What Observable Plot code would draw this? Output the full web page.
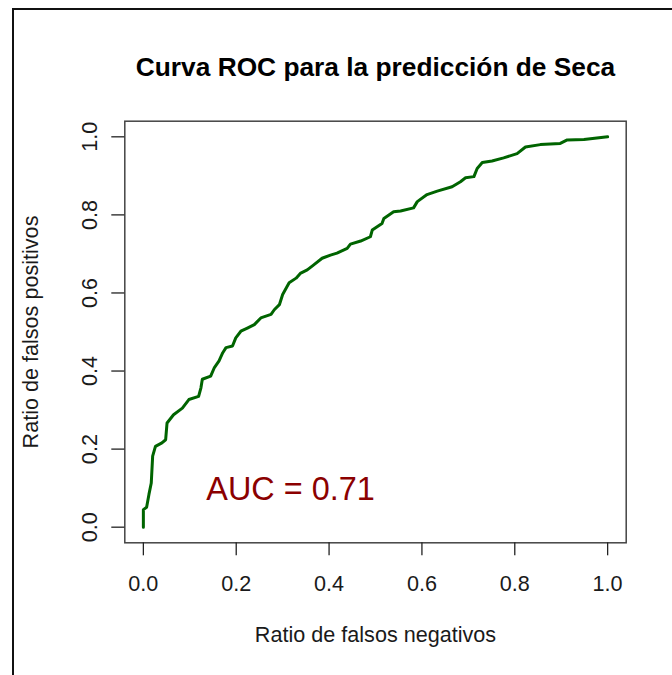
<!DOCTYPE html>
<html>
<head>
<meta charset="utf-8">
<script src="https://cdn.jsdelivr.net/npm/d3@7"></script>
<script src="https://cdn.jsdelivr.net/npm/@observablehq/plot@0.6"></script>
<style>
  html, body { margin: 0; padding: 0; background: #fff; }
  #wrap { position: relative; width: 672px; height: 675px; overflow: hidden; }
  #border { position: absolute; left: 12px; top: 8px; width: 700px; height: 700px;
            border-left: 2px solid #111; border-top: 2px solid #111; pointer-events: none; }
  #chart { position: absolute; left: 0; top: 0; }
</style>
</head>
<body>
<div id="wrap"><div id="chart"></div><div id="border"></div></div>
<script>
const title = "Curva ROC para la predicción de Seca";
const xLabel = "Ratio de falsos negativos";
const yLabel = "Ratio de falsos positivos";
const aucLabel = "AUC = 0.71";
const xTicks = [0, 0.2, 0.4, 0.6, 0.8, 1.0];
const yTicks = [0, 0.2, 0.4, 0.6, 0.8, 1.0];
const fpr = [0, 0, 0.007, 0.012, 0.017, 0.020, 0.026, 0.040, 0.048, 0.051,
  0.065, 0.084, 0.098, 0.119, 0.124, 0.127, 0.145, 0.153, 0.163, 0.171,
  0.178, 0.192, 0.199, 0.21, 0.224, 0.239, 0.253, 0.275, 0.282, 0.293,
  0.30, 0.314, 0.329, 0.338, 0.353, 0.367, 0.385, 0.403, 0.417, 0.439,
  0.446, 0.468, 0.489, 0.493, 0.514, 0.518, 0.539, 0.554, 0.582, 0.590,
  0.611, 0.633, 0.665, 0.683, 0.694, 0.712, 0.719, 0.730, 0.751, 0.776,
  0.805, 0.823, 0.855, 0.898, 0.913, 0.949, 1.0];
const tpr = [0, 0.045, 0.051, 0.084, 0.113, 0.182, 0.207, 0.216, 0.224, 0.267,
  0.288, 0.305, 0.327, 0.335, 0.357, 0.379, 0.387, 0.409, 0.426, 0.447,
  0.46, 0.464, 0.485, 0.502, 0.51, 0.519, 0.536, 0.545, 0.557, 0.570,
  0.596, 0.626, 0.638, 0.650, 0.659, 0.672, 0.689, 0.697, 0.702, 0.714,
  0.725, 0.733, 0.744, 0.761, 0.778, 0.791, 0.808, 0.810, 0.818, 0.834,
  0.852, 0.861, 0.872, 0.885, 0.895, 0.898, 0.919, 0.934, 0.938, 0.946,
  0.957, 0.974, 0.980, 0.983, 0.992, 0.993, 1.0];

const roc = fpr.map((x, i) => ({x, y: tpr[i]}));
const fmt = d3.format(".1f");
const font = "'Liberation Sans', Arial, Helvetica, sans-serif";

const chart = Plot.plot({
  width: 672,
  height: 675,
  marginLeft: 124.3,
  marginRight: 46.3,
  marginTop: 120.7,
  marginBottom: 132.7,
  style: {fontFamily: font, color: "#1a1a1a", background: "transparent"},
  x: {domain: [-0.04, 1.04], axis: null},
  y: {domain: [-0.04, 1.04], axis: null},
  marks: [
    Plot.frame({stroke: "#444", strokeWidth: 1.5}),
    Plot.axisX({ticks: xTicks, tickSize: 13, tickFormat: () => "", label: null, stroke: "#222", strokeWidth: 1.3}),
    Plot.axisY({ticks: yTicks, tickSize: 13, tickFormat: () => "", label: null, stroke: "#222", strokeWidth: 1.3}),
    Plot.text(xTicks, {x: d => d, frameAnchor: "bottom", dy: 41, text: d => fmt(d),
      fontSize: 21.6, lineAnchor: "middle", textAnchor: "middle"}),
    Plot.text(yTicks, {y: d => d, frameAnchor: "left", dx: -35, text: d => fmt(d),
      fontSize: 21.6, lineAnchor: "middle", textAnchor: "middle", rotate: -90}),
    Plot.line(roc, {x: "x", y: "y", stroke: "#006400", strokeWidth: 3, strokeLinejoin: "round"}),
    Plot.text([aucLabel], {x: 0.317, y: 0.095, text: d => d, fill: "#8B0000",
      fontSize: 32.4, lineAnchor: "middle", textAnchor: "middle"}),
    Plot.text([title], {frameAnchor: "top", dy: -54, text: d => d, fontSize: 26.3,
      fontWeight: "bold", lineAnchor: "middle", textAnchor: "middle", fill: "#000"}),
    Plot.text([xLabel], {frameAnchor: "bottom", dy: 92.7, text: d => d, fontSize: 21.6,
      lineAnchor: "middle", textAnchor: "middle"}),
    Plot.text([yLabel], {frameAnchor: "left", dx: -93.3, text: d => d, fontSize: 21.6,
      lineAnchor: "middle", textAnchor: "middle", rotate: -90})
  ]
});
document.getElementById("chart").appendChild(chart);
</script>
</body>
</html>
